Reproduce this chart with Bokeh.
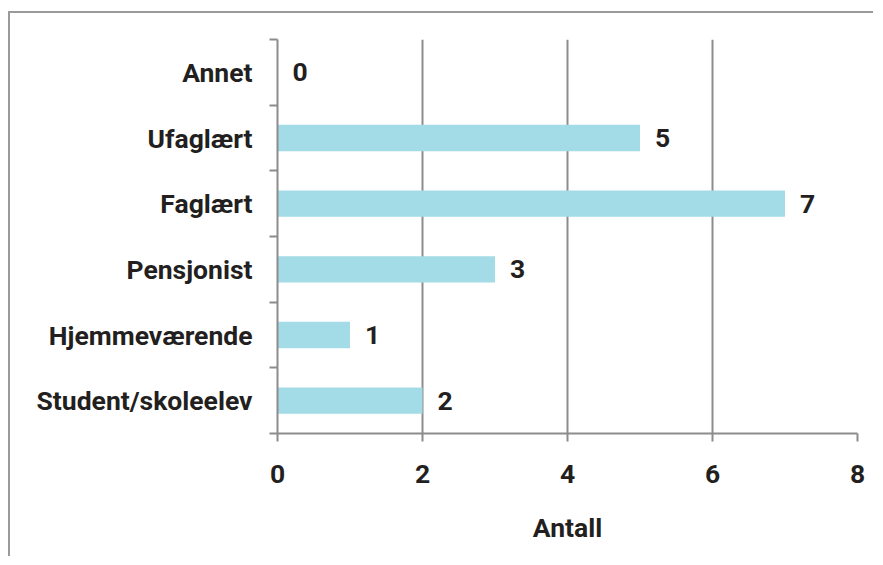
from bokeh.plotting import figure
from bokeh.models import FixedTicker, Range1d, ColumnDataSource
from bokeh.core.properties import value
from bokeh.embed import file_html
from bokeh.resources import INLINE

categories = ["Student/skoleelev", "Hjemmeværende", "Pensjonist", "Faglært", "Ufaglært", "Annet"]
counts = [2, 1, 3, 7, 5, 0]
x_ticks = [0, 2, 4, 6, 8]
x_title = "Antall"

FONT = "Roboto"
TXT = "#231f20"
GRAY = "#8c8c8c"
FS = "26.5px"

pos = [i + 0.5 for i in range(len(categories))]
src = ColumnDataSource(dict(y=pos, v=counts, lbl=[str(c) for c in counts]))

p = figure(width=865, height=545, output_backend="svg", toolbar_location=None,
           x_range=Range1d(0, 8), y_range=Range1d(0, len(categories)),
           min_border_left=267, min_border_right=18, min_border_top=26, min_border_bottom=125)
p.margin = (11, 0, 0, 8)
p.styles = {"border-left": "2px solid #9a9a9a", "border-top": "2px solid #9a9a9a"}
p.outline_line_color = None
p.background_fill_color = "white"

p.hbar(y="y", right="v", left=0, height=0.4, source=src, color="#a3dbe6", line_color=None)
p.text(x="v", y="y", text="lbl", source=src, x_offset=15, text_align="left", text_baseline="middle",
       text_font=value(FONT), text_font_style="bold", text_font_size=FS, text_color=TXT)

# x axis
p.xaxis.ticker = FixedTicker(ticks=x_ticks)
p.xaxis.axis_line_color = GRAY
p.xaxis.axis_line_width = 2
p.xaxis.major_tick_line_color = GRAY
p.xaxis.major_tick_line_width = 2
p.xaxis.major_tick_out = 8
p.xaxis.major_tick_in = 0
p.xaxis.minor_tick_line_color = None
p.xaxis.major_label_standoff = 23
p.xaxis.major_label_text_font = FONT
p.xaxis.major_label_text_font_style = "bold"
p.xaxis.major_label_text_font_size = FS
p.xaxis.major_label_text_color = TXT
p.xaxis.axis_label = x_title
p.xaxis.axis_label_standoff = 26
p.xaxis.axis_label_text_font = FONT
p.xaxis.axis_label_text_font_style = "bold"
p.xaxis.axis_label_text_font_size = FS
p.xaxis.axis_label_text_color = TXT

# y axis
p.yaxis.ticker = FixedTicker(ticks=pos, minor_ticks=list(range(len(categories) + 1)))
p.yaxis.major_label_overrides = {pp: c for pp, c in zip(pos, categories)}
p.yaxis.axis_line_color = GRAY
p.yaxis.axis_line_width = 2
p.yaxis.major_tick_line_color = None
p.yaxis.major_tick_out = 0
p.yaxis.major_tick_in = 0
p.yaxis.minor_tick_line_color = GRAY
p.yaxis.minor_tick_line_width = 2
p.yaxis.minor_tick_out = 8
p.yaxis.minor_tick_in = 0
p.yaxis.major_label_standoff = 17
p.yaxis.major_label_text_font = FONT
p.yaxis.major_label_text_font_style = "bold"
p.yaxis.major_label_text_font_size = FS
p.yaxis.major_label_text_color = TXT

p.ygrid.grid_line_color = None
p.xgrid.ticker = FixedTicker(ticks=x_ticks[1:])
p.xgrid.grid_line_color = GRAY
p.xgrid.grid_line_width = 2

open("out.html", "w").write(file_html(p, INLINE))
